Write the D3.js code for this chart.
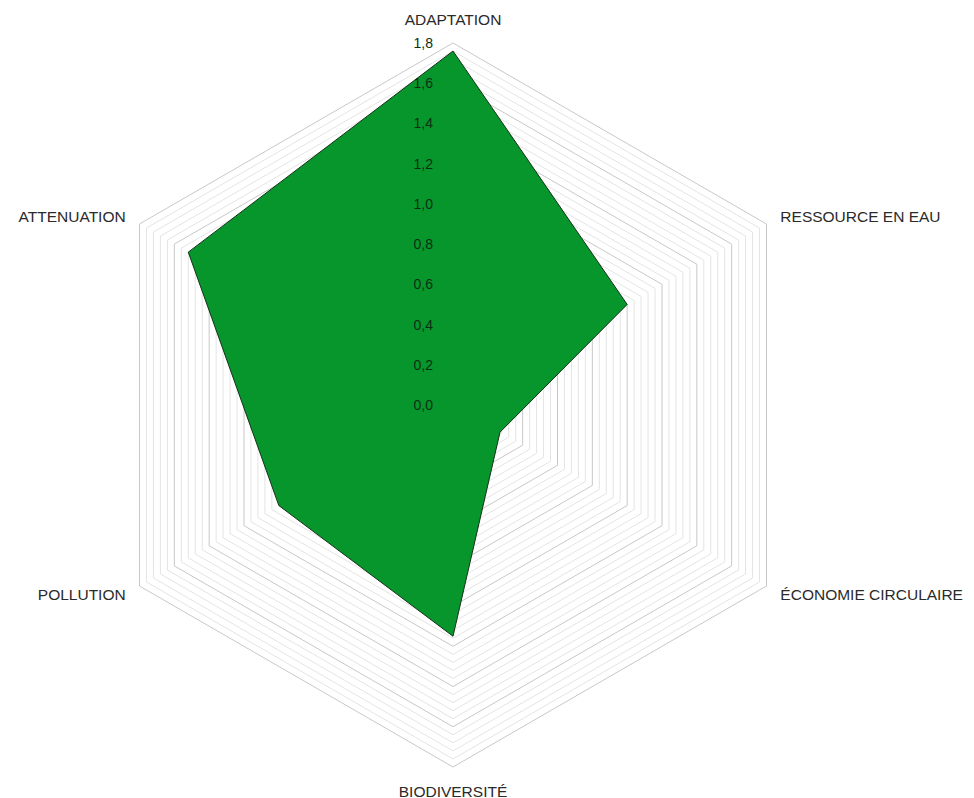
<!DOCTYPE html>
<html>
<head>
<meta charset="utf-8">
<script src="https://cdn.jsdelivr.net/npm/d3@7"></script>
<style>
  html, body { margin: 0; padding: 0; background: #fff; }
  svg { display: block; font-family: "Liberation Sans", Arial, sans-serif; }
</style>
</head>
<body>
<div id="chart"></div>
<script>
// Data
const categories = ['ADAPTATION', 'RESSOURCE EN EAU', 'ÉCONOMIE CIRCULAIRE', 'BIODIVERSITÉ', 'POLLUTION', 'ATTENUATION'];
const values = [1.76, 1.0, 0.27, 1.15, 1.0, 1.52];
const tickValues = [0, 0.2, 0.4, 0.6, 0.8, 1.0, 1.2, 1.4, 1.6, 1.8];
const minorStep = 0.04;
const axisMax = 1.8;

const width = 974;
const height = 798;
const cx = 453;
const cy = 405;
const R = 362;

const svg = d3.select('#chart')
    .append('svg')
    .attr('width', width)
    .attr('height', height);

svg.append('rect')
    .attr('width', width)
    .attr('height', height)
    .attr('fill', '#fff');

const g = svg.append('g')
    .attr('transform', `translate(${cx},${cy})`);

const rScale = d3.scaleLinear()
    .domain([0, axisMax])
    .range([0, R]);

const n = categories.length;
const angle = i => i * 2 * Math.PI / n;

const radial = d3.lineRadial()
    .angle((d, i) => angle(i))
    .radius(d => rScale(d))
    .curve(d3.curveLinearClosed);

// grid rings (minor + major)
const ringCount = Math.round(axisMax / minorStep);
const rings = d3.range(1, ringCount + 1).map(k => k * minorStep);

g.append('g')
    .attr('class', 'grid')
    .selectAll('path')
    .data(rings)
    .join('path')
    .attr('d', v => radial(categories.map(() => v)))
    .attr('fill', 'none')
    .attr('stroke', (v, i) => ((i + 1) % 5 === 0) ? '#c8c8c8' : '#e4e4e4')
    .attr('stroke-width', 1);

// data polygon
g.append('path')
    .datum(values)
    .attr('d', radial)
    .attr('fill', '#06962c')
    .attr('stroke', '#16321b')
    .attr('stroke-width', 1);

// tick labels
g.append('g')
    .attr('class', 'ticks')
    .selectAll('text')
    .data(tickValues)
    .join('text')
    .attr('x', -20)
    .attr('y', d => -rScale(d))
    .attr('text-anchor', 'end')
    .attr('dominant-baseline', 'central')
    .style('font-size', '14px')
    .style('fill', '#0c2e12')
    .text(d => d.toFixed(1).replace('.', ','));

// category labels
g.append('g')
    .attr('class', 'cat-labels')
    .selectAll('text')
    .data(categories)
    .join('text')
    .each(function(d, i) {
        const a = angle(i);
        const s = Math.sin(a), c = Math.cos(a);
        const extra = Math.abs(c) > 0.99 ? 8 : 0;
        const rr = R + 16 + extra;
        d3.select(this)
            .attr('x', rr * s)
            .attr('y', -rr * c)
            .attr('text-anchor', Math.abs(s) < 0.01 ? 'middle' : (s > 0 ? 'start' : 'end'));
    })
    .attr('dominant-baseline', 'central')
    .style('font-size', '15.5px')
    .style('fill', '#2a2a2a')
    .text(d => d);
</script>
</body>
</html>
